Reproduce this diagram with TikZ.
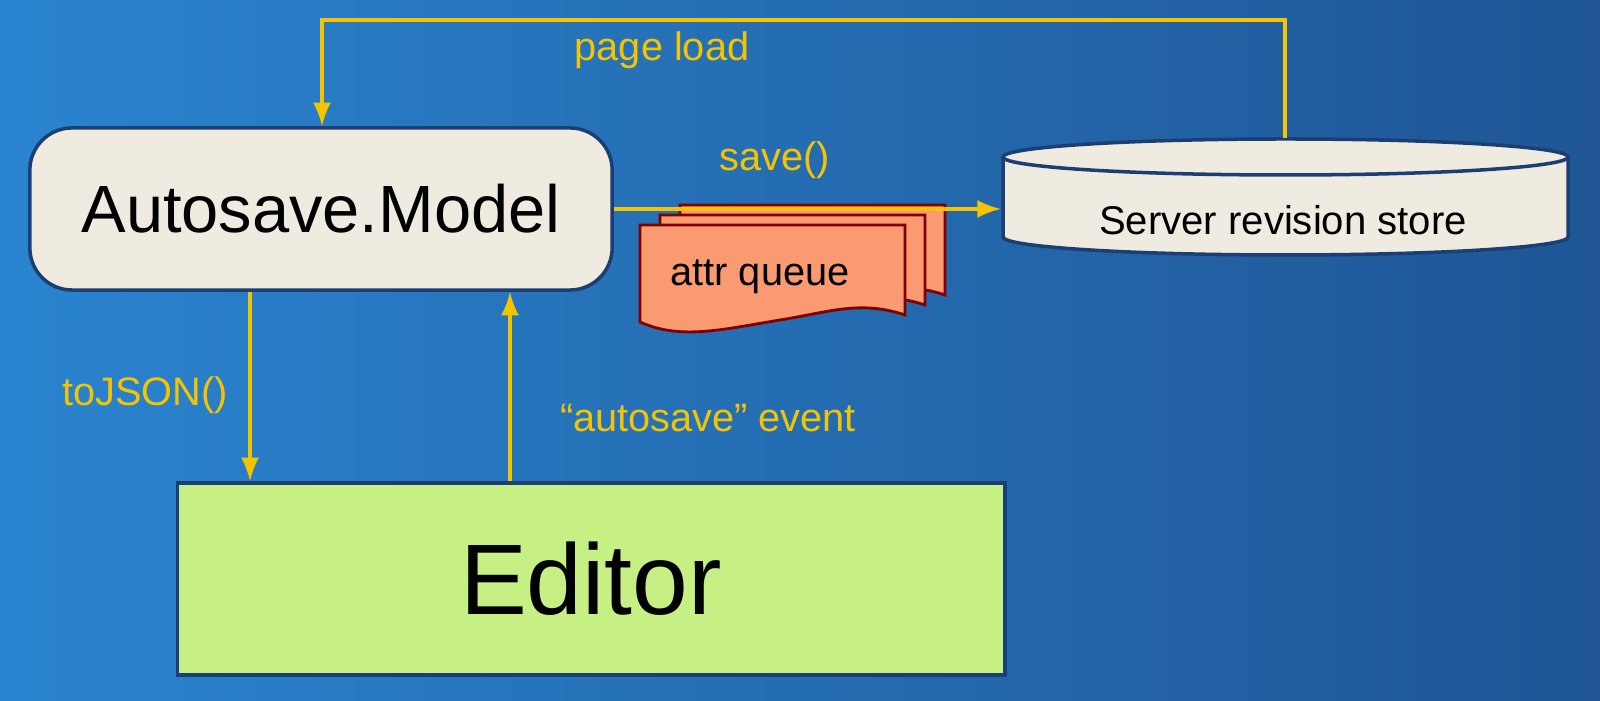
\documentclass[tikz,border=0pt]{standalone}
\usepackage{fontspec}
\setmainfont{Liberation Sans}
\definecolor{bgl}{HTML}{2A84CF}
\definecolor{bgr}{HTML}{1F5595}
\definecolor{arr}{HTML}{F5C400}
\definecolor{edge}{HTML}{1B3F73}
\definecolor{modelfill}{HTML}{EFEBE1}
\definecolor{editorfill}{HTML}{C6F084}
\definecolor{pagefill}{HTML}{F99A70}
\begin{document}
\begin{tikzpicture}[x=0.01cm, y=0.01cm, thick,
    flow/.style = {draw=arr, line width=1.3pt, -latex},
    lbl/.style = {text=arr, font=\fontsize{11.3}{13}\selectfont},
    page/.style = {draw=red!50!black, fill=pagefill, line width=0.8pt}]
    \shade[left color=bgl, right color=bgr] (0,0) rectangle (1600,701);
    % boxes
    \node[draw=edge, line width=1pt, fill=modelfill, rounded corners=12pt,
          minimum width=5.82cm, minimum height=1.62cm, inner sep=0pt] (model) at (321,492)
          {\fontsize{19}{22}\selectfont Autosave.Model};
    \node[draw=edge, line width=1pt, fill=editorfill,
          minimum width=8.27cm, minimum height=1.92cm, inner sep=0pt] (editor) at (591,122)
          {\fontsize{28.5}{32}\selectfont Editor};
    % revision store drawn as a cylinder
    \draw[draw=edge, line width=1pt, fill=modelfill]
        (1003,544) -- (1003,464) arc[start angle=180, end angle=360, x radius=282.5, y radius=18]
        -- (1568,544);
    \draw[draw=edge, line width=1pt, fill=modelfill] (1285.5,544) ellipse[x radius=282.5, y radius=18];
    \node[minimum width=5.65cm, minimum height=1.04cm, inner sep=0pt] (store) at (1285,510) {};
    \node at (1283,481) {\fontsize{11.4}{13}\selectfont Server revision store};
    % attr queue pages
    \foreach \d in {20,10,0} {
        \draw[page] (640+2*\d,476+\d) -- (905+2*\d,476+\d) -- (905+2*\d,386+\d)
            .. controls (860+2*\d,401+\d) and (830+2*\d,389+\d) .. (780+2*\d,381+\d)
            .. controls (720+2*\d,371+\d) and (680+2*\d,361+\d) .. (640+2*\d,379+\d) -- cycle;
    }
    \node (queue) at (760,424) {\fontsize{11.3}{13}\selectfont attr queue};
    % connectors
    \coordinate (topl) at (322,681);
    \coordinate (topr) at (1285,681);
    \coordinate (jx) at (250,0);
    \coordinate (ax) at (510,0);
    \draw[flow] (store.north) -- (topr) -- (topl) -- (model.north -| topl);
    \draw[flow] (model.east) -- (store.west |- model.east);
    \draw[flow] (model.south -| jx) -- (editor.north -| jx);
    \draw[flow] (editor.north -| ax) -- (model.south -| ax);
    % labels
    \node[lbl] at (662,651) {page load};
    \node[lbl] at (775,541) {save()};
    \node[lbl] at (145,306) {toJSON()};
    \node[lbl] at (708,283) {“autosave” event};
\end{tikzpicture}
\end{document}
